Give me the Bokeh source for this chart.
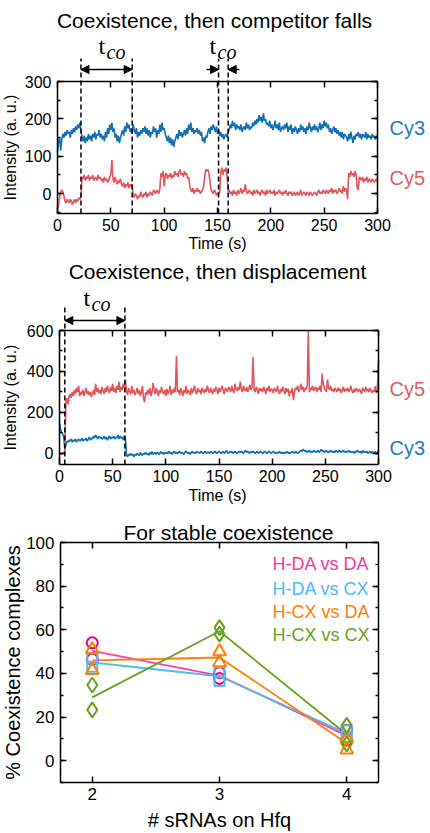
import numpy as np
from bokeh.plotting import figure
from bokeh.models import (Range1d, LinearAxis, SingleIntervalTicker, FixedTicker, Label,
                          Arrow, NormalHead, CustomJSTickFormatter)
from bokeh.layouts import column
from bokeh.embed import file_html
from bokeh.resources import INLINE

FONT = "Liberation Sans"
SERIF = "Liberation Serif"
W = 430

# ---------------- data: panel 1 (coexistence, then competitor falls) ----------------
top_cy3 = [110,
    140, 150, 115, 145, 160, 150, 165, 155, 170, 160,
    165, 150, 170, 160, 175, 165, 180, 170, 185, 175,
    190, 170, 150, 140, 155, 135, 150, 140, 160, 145,
    155, 140, 160, 150, 165, 145, 160, 155, 170, 150,
    160, 145, 155, 140, 165, 150, 175, 160, 185, 170,
    190, 165, 175, 150, 160, 140, 155, 135, 150, 160,
    170, 155, 180, 165, 190, 175, 185, 165, 175, 160,
    185, 170, 160, 175, 150, 165, 155, 170, 160, 175,
    165, 180, 160, 175, 155, 170, 150, 165, 160, 180,
    165, 175, 150, 170, 160, 185, 165, 190, 170, 175,
    160, 150, 140, 155, 135, 150, 130, 145, 125, 140,
    150, 160, 145, 170, 155, 165, 150, 160, 170, 155,
    175, 160, 185, 170, 190, 165, 175, 160, 170, 165,
    175, 160, 170, 155, 165, 140, 150, 135, 155, 150,
    165, 175, 160, 180, 170, 185, 175, 165, 180, 160,
    170, 155, 165, 150, 160, 145, 155, 160, 150, 165,
    170, 185, 175, 195, 180, 190, 170, 185, 175, 180,
    170, 185, 165, 175, 180, 170, 190, 175, 185, 170,
    180, 175, 190, 180, 195, 185, 200, 190, 210, 195,
    205, 190, 215, 195, 200, 185, 190, 180, 195, 175,
    185, 170, 180, 195, 175, 185, 170, 190, 165, 175,
    180, 170, 185, 175, 190, 165, 180, 170, 185, 160,
    175, 165, 180, 170, 160, 175, 165, 185, 170, 180,
    165, 175, 160, 180, 170, 190, 175, 165, 180, 170,
    185, 170, 180, 165, 175, 190, 170, 185, 175, 195,
    180, 190, 175, 185, 165, 175, 160, 170, 180, 165,
    175, 160, 170, 155, 165, 150, 165, 145, 160, 155,
    150, 140, 160, 145, 165, 150, 135, 155, 145, 160,
    155, 165, 150, 160, 145, 160, 155, 150, 165, 145,
    160, 150, 155, 145, 160, 150, 155, 145, 155, 150]

top_cy5 = [-40,
    -30, -10, 5, 10, 5, -5, -20, -25, -15, -20,
    -25, -15, -20, -30, -20, -15, -25, -15, -20, -10,
    -15, -10, 45, 40, 50, 35, 45, 40, 50, 35,
    45, 40, 50, 35, 40, 45, 35, 50, 40, 45,
    35, 40, 30, 45, 35, 40, 30, 35, 45, 50,
    90, 40, 30, 45, 35, 25, 35, 30, 40, 25,
    20, 30, 15, 25, 20, 30, 15, 25, 20, 25,
    -5, -10, 0, -5, -15, -5, -10, 5, -5, -10,
    0, -5, 5, -10, 0, -5, 5, 0, -5, 10,
    5, 0, 10, 5, 0, 15, 55, 45, 60, 20,
    50, 55, 40, 50, 45, 55, 40, 50, 45, 60,
    50, 55, 45, 60, 65, 50, 55, 45, 60, 50,
    55, 40, 45, 20, 10, 5, 15, 0, 10, 5,
    15, 5, 10, 0, 5, 10, 20, 45, 65, 60,
    65, 55, 30, 10, 5, 0, 10, 5, -5, 0,
    5, 0, 55, 70, 50, 65, 60, 70, 45, 5,
    10, 0, 5, -5, 10, 0, 5, -5, 10, 0,
    5, 15, 0, 10, 5, 25, 10, 0, 5, 10,
    0, 5, -5, 10, 0, 5, 10, 0, 5, -5,
    5, 10, 0, 5, -5, 10, 0, 5, 10, 0,
    5, 0, 10, -5, 5, 0, 5, 10, 0, 5,
    -5, 5, 0, 10, 0, -5, 5, 0, 5, -5,
    0, 5, -5, 0, 5, -5, 0, 10, -5, 0,
    5, 0, -5, 5, 0, -5, 5, 0, -5, 0,
    5, 0, -5, 5, 10, 0, 5, 0, 10, 5,
    0, 10, 5, 0, 10, 5, 15, 0, 10, 5,
    10, 0, 5, 15, 5, 10, 0, 20, 5, 15,
    10, -15, 55, 45, 60, 50, 55, 45, 60, 50,
    15, 10, 45, 40, 35, 45, 30, 40, 35, 45,
    30, 40, 35, 30, 40, 35, 30, 35, 40, 30]

top_tco_lines = [22, 70, 151, 160]

# ---------------- data: panel 2 (coexistence, then displacement) ----------------
mid_cy3 = [150,
    120, 100, 95, 80, 20, 40, 60, 55, 65, 60,
    70, 55, 65, 60, 70, 55, 65, 70, 60, 65,
    75, 60, 70, 65, 75, 60, 70, 80, 65, 75,
    70, 85, 75, 90, 80, 70, 85, 75, 80, 70,
    75, 85, 70, 80, 65, 75, 85, 70, 80, 75,
    85, 70, 80, 75, 90, 70, 85, 75, 80, 65,
    85, 70, -10, -15, -5, -10, 0, -10, -5, -15,
    -5, -10, 0, -5, -10, 5, -5, -10, 0, -5,
    5, -5, 0, -10, 5, -5, 10, -5, 0, 5,
    -5, 5, 0, -5, 10, 0, 5, -5, 5, 0,
    5, 0, 10, 0, 5, -5, 5, 10, 0, 5,
    0, 5, 10, 0, 5, 0, -5, 5, 10, 5,
    0, 5, -5, 5, 10, 0, 5, 0, 10, 5,
    5, 0, 10, 5, 0, 5, 10, 0, 5, 5,
    0, 10, 5, 0, 5, 10, 5, 0, 5, 10,
    5, 0, 5, 10, 0, 5, 15, 5, 0, 10,
    5, 10, 0, 5, 10, 5, 0, 5, 10, 5,
    10, 5, 0, 10, 15, 5, 10, 5, 0, 10,
    5, 10, 5, 0, 5, 10, 0, 5, 10, 5,
    0, 5, 10, 5, 0, 5, 10, 5, 0, 5,
    10, 5, 0, 5, 0, 5, 10, 0, 5, 0,
    5, 0, 5, 10, 0, 5, 0, 5, 10, 5,
    0, 10, 5, 0, 5, 10, 15, 10, 20, 15,
    10, 15, 5, 10, 15, 5, 10, 5, 15, 10,
    5, 10, 15, 5, 10, 20, 10, 15, 5, 10,
    15, 5, 10, 5, 15, 10, 5, 10, 5, 15,
    10, 5, 15, 10, 5, 10, 15, 5, 10, 5,
    10, 15, 5, 10, 5, 10, 0, 10, 5, 15,
    10, 5, 10, 0, 15, 5, 10, 5, 10, 0,
    5, 10, 0, 10, 5, 0, 10, -5, 5, 15]

mid_cy5 = [0,
    0, -5, 0, 5, 5, 250, 270, 240, 280, 290,
    270, 300, 280, 310, 290, 320, 300, 330, 280, 300,
    290, 310, 280, 300, 320, 290, 305, 285, 300, 275,
    290, 310, 285, 340, 300, 320, 295, 310, 290, 325,
    305, 290, 320, 300, 330, 310, 295, 325, 305, 340,
    300, 320, 295, 330, 310, 350, 300, 325, 310, 340,
    320, 355, 300, 285, 320, 300, 290, 330, 295, 310,
    285, 300, 320, 290, 310, 280, 300, 330, 270, 250,
    300, 285, 310, 290, 320, 280, 300, 345, 310, 290,
    320, 300, 280, 310, 295, 325, 300, 290, 310, 280,
    315, 290, 300, 330, 285, 310, 295, 320, 300, 475,
    300, 310, 285, 320, 300, 280, 310, 295, 330, 290,
    310, 300, 285, 320, 295, 310, 330, 300, 290, 320,
    300, 310, 290, 320, 305, 295, 315, 300, 330, 310,
    295, 320, 305, 290, 315, 300, 325, 310, 290, 320,
    300, 315, 330, 305, 290, 320, 310, 300, 325, 315,
    300, 330, 310, 295, 340, 315, 305, 325, 310, 350,
    315, 300, 330, 310, 305, 325, 300, 315, 335, 310,
    320, 470, 310, 300, 325, 310, 290, 320, 305, 315,
    300, 325, 310, 290, 320, 305, 330, 300, 315, 310,
    295, 320, 310, 300, 330, 305, 290, 315, 300, 325,
    310, 290, 320, 300, 315, 280, 305, 295, 320, 260,
    300, 320, 310, 330, 300, 315, 340, 310, 325, 300,
    320, 310, 335, 600, 300, 320, 310, 330, 305, 315,
    325, 300, 320, 310, 330, 300, 390, 340, 320, 310,
    300, 360, 320, 310, 330, 305, 315, 300, 320, 310,
    300, 320, 305, 315, 295, 310, 325, 300, 315, 305,
    320, 300, 310, 330, 305, 295, 315, 300, 320, 310,
    300, 315, 305, 290, 320, 310, 300, 325, 305, 315,
    300, 320, 305, 295, 310, 300, 330, 295, 315, 455]

mid_tco_lines = [5, 61.5]

# ---------------- data: panel 3 (stable coexistence) ----------------
n_srnas = [2, 3, 4]
pair_names = ["H-DA vs DA", "H-DA vs CX", "H-CX vs DA", "H-CX vs CX"]
mean_hdada_da = [50.3, 39.0, 11.5]
mean_hdada_cx = [45.0, 38.7, 12.5]
mean_hcx_da = [46.0, 47.3, 8.0]
mean_hcx_cx = [29.0, 59.3, 12.0]
rep1_hdada_da = [54.0, 40.3, 14.0]
rep2_hdada_da = [46.5, 37.7, 9.5]
rep1_hdada_cx = [47.0, 40.5, 14.0]
rep2_hdada_cx = [43.0, 36.5, 11.0]
rep1_hcx_da = [51.0, 50.0, 5.0]
rep2_hcx_da = [41.5, 45.0, 10.0]
rep1_hcx_cx = [34.7, 61.0, 16.2]
rep2_hcx_cx = [23.3, 58.0, 7.7]

BLUE_TRACE = "#1270b3"
RED_TRACE = "#e2555a"
CY3_TEXT = "#1a7cc0"
CY5_TEXT = "#e35a5d"


class Panel:
    """A figure whose frame is the whole canvas; the boxed axes are placed with fixed_location."""

    def __init__(self, y_top, height, box, bdata):
        self.y_top = y_top
        left, right, top, bottom = box
        x0, x1, y0, y1 = bdata
        self.sx = (right - left) / (x1 - x0)
        self.sy = (bottom - top) / (y1 - y0)
        self.left, self.top = left, top
        self.x0, self.y1 = x0, y1
        self.bdata = bdata
        xr = (self.X(0), self.X(W))
        yr = (self.Y(y_top + height), self.Y(y_top))
        self.p = figure(width=W, height=height, x_range=Range1d(*xr), y_range=Range1d(*yr),
                        output_backend="svg", toolbar_location=None, title=None,
                        x_axis_location=None, y_axis_location=None, min_border=0)
        p = self.p
        p.grid.visible = False
        p.outline_line_color = None
        p.background_fill_color = "white"
        p.border_fill_color = "white"

    def X(self, px):
        return self.x0 + (px - self.left) / self.sx

    def Y(self, py):
        return self.y1 - (py - self.top) / self.sy

    def axes(self, xticker_f, yticker_f, size, x_minor=False):
        x0, x1, y0, y1 = self.bdata
        specs = [("below", xticker_f, y0, (x0, x1), True, 5),
                 ("above", xticker_f, y1, (x0, x1), False, 0),
                 ("left", yticker_f, x0, (y0, y1), True, 6),
                 ("right", yticker_f, x1, (y0, y1), False, 0)]
        for loc, tk, fixed, bounds, labels, standoff in specs:
            ax = LinearAxis(ticker=tk(), fixed_location=fixed, bounds=bounds)
            if not labels:
                ax.formatter = CustomJSTickFormatter(code="return ''")
            ax.axis_line_color = "black"
            ax.axis_line_width = 1.5
            ax.major_tick_in = 6
            ax.major_tick_out = 0
            ax.minor_tick_in = 3
            ax.minor_tick_out = 0
            ax.major_tick_line_color = "black"
            ax.minor_tick_line_color = "black"
            ax.major_tick_line_width = 1.5
            ax.minor_tick_line_width = 1.5
            if loc in ("below", "above") and not x_minor:
                ax.minor_tick_line_color = None
            ax.major_label_text_font = FONT
            ax.major_label_text_font_size = size
            ax.major_label_text_color = "black"
            ax.major_label_standoff = standoff
            self.p.add_layout(ax, loc)

    def text(self, px, py, s, size, color="black", align="left", font=FONT,
             style="normal", angle=0.0):
        self.p.add_layout(Label(x=self.X(px), y=self.Y(py), text=s, text_font=font,
                                text_font_size=size, text_color=color, text_align=align,
                                text_baseline="middle", text_font_style=style, angle=angle))

    def dashed(self, x, py_top):
        self.p.add_layout(Arrow(end=None, x_start=x, y_start=self.bdata[2], x_end=x,
                                y_end=self.Y(py_top), line_color="black", line_width=1.5,
                                line_dash="5 3"))

    def arrow(self, x_from, x_to, py, both=False):
        def head():
            return NormalHead(size=8, fill_color="black", line_color="black", line_width=1)
        y = self.Y(py)
        self.p.add_layout(Arrow(start=head() if both else None, end=head(), x_start=x_from,
                                y_start=y, x_end=x_to, y_end=y, line_color="black",
                                line_width=1.5))

    def tco(self, px, py_t, py_co, dx):
        self.text(px, py_t, "t", "24px", font=SERIF)
        self.text(px + dx, py_co, "co", "20px", font=SERIF, style="italic")


def trace_panel(y_top, height, box, bdata, cy3, cy5, ytick):
    pn = Panel(y_top, height, box, bdata)
    pn.p.line(list(range(len(cy3))), cy3, line_color=BLUE_TRACE, line_width=1.6)
    pn.p.line(list(range(len(cy5))), cy5, line_color=RED_TRACE, line_width=1.6)
    pn.axes(lambda: SingleIntervalTicker(interval=50, num_minor_ticks=0),
            lambda: SingleIntervalTicker(interval=ytick, num_minor_ticks=2), "16px")
    return pn


# ---------------- panel 1 ----------------
a = trace_panel(0, 258, (57, 377, 81, 213), (0, 300, -53, 300), top_cy3, top_cy5, 100)
a.text(214, 20, "Coexistence, then competitor falls", "21px", align="center")
for xv in top_tco_lines:
    a.dashed(xv, 58)
a.arrow(top_tco_lines[0], top_tco_lines[1], 69, both=True)
a.arrow(a.X(206), top_tco_lines[2], 69)
a.arrow(a.X(239), top_tco_lines[3], 69)
a.tco(98, 45, 51, 8)
a.tco(209, 45, 51, 8)
a.text(389, 127, "Cy3", "20px", color=CY3_TEXT)
a.text(389, 177, "Cy5", "20px", color=CY5_TEXT)
a.text(10, 147, "Intensity (a. u.)", "16px", align="center", angle=np.pi / 2)
a.text(217, 243, "Time (s)", "16px", align="center")

# ---------------- panel 2 ----------------
b = trace_panel(258, 251, (59, 378, 330, 464), (0, 300, -54, 600), mid_cy3, mid_cy5, 200)
b.text(217, 271, "Coexistence, then displacement", "21px", align="center")
for xv in mid_tco_lines:
    b.dashed(xv, 307)
b.arrow(mid_tco_lines[0], mid_tco_lines[1], 320, both=True)
b.tco(83, 297, 303, 8)
b.text(389, 388, "Cy5", "20px", color=CY5_TEXT)
b.text(389, 447, "Cy3", "20px", color=CY3_TEXT)
b.text(10, 397, "Intensity (a. u.)", "16px", align="center", angle=np.pi / 2)
b.text(217, 495, "Time (s)", "16px", align="center")

# ---------------- panel 3 ----------------
c = Panel(509, 324, (60, 378, 542, 782), (1.75, 4.25, -10, 100))
c.axes(lambda: FixedTicker(ticks=n_srnas, minor_ticks=[]),
       lambda: SingleIntervalTicker(interval=20, num_minor_ticks=2), "17px")
series = [
    (mean_hdada_da, rep1_hdada_da, rep2_hdada_da, "#ff3fa4", "#e5077f", "circle", 11),
    (mean_hdada_cx, rep1_hdada_cx, rep2_hdada_cx, "#52b9f7", "#52b9f7", "square", 10),
    (mean_hcx_da, rep1_hcx_da, rep2_hcx_da, "#ff8000", "#ff8000", "triangle", 13),
    (mean_hcx_cx, rep1_hcx_cx, rep2_hcx_cx, "#67a320", "#67a320", "diamond", 15),
]
for mean, r1, r2, lc, mc, mk, sz in series:
    c.p.line(n_srnas, mean, line_color=lc, line_width=1.8)
for mean, r1, r2, lc, mc, mk, sz in series:
    for rep in (r1, r2):
        c.p.scatter(n_srnas, rep, marker=mk, size=sz, fill_color=None,
                    line_color=mc, line_width=2)
c.text(228, 532, "For stable coexistence", "21px", align="center")
legend_colors = ["#ff3399", "#4db8ff", "#ff8000", "#67a320"]
legend_py = [563, 588, 611, 634]
for name, col, py in zip(pair_names, legend_colors, legend_py):
    c.text(272, py, name, "18px", color=col)
c.text(12, 662, "% Coexistence complexes", "20px", align="center", angle=np.pi / 2)
c.text(219, 819, "# sRNAs on Hfq", "20px", align="center")

layout = column(a.p, b.p, c.p, spacing=0)
open("out.html", "w").write(file_html(layout, INLINE))
